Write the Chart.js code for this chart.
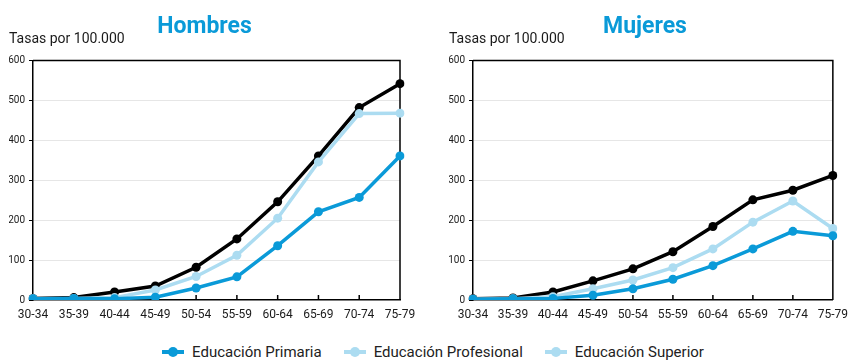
<!DOCTYPE html>
<html>
<head>
<meta charset="utf-8">
<script src="https://cdn.jsdelivr.net/npm/chart.js@4.4.1/dist/chart.umd.min.js"></script>
<style>
  html, body { margin: 0; padding: 0; background: #fff; }
  #wrap { position: relative; width: 856px; height: 362px; overflow: hidden; }
  .panel { position: absolute; top: 0; height: 335px; }
  #legend { position: absolute; left: 0; top: 343px; width: 866px; display: flex; justify-content: center;
            font-family: Roboto, 'Noto Sans', sans-serif; font-size: 15px; color: #222; }
  #legend .item { display: flex; align-items: center; margin: 0 11px; }
  #legend .mark { position: relative; width: 22px; height: 4px; margin-right: 8px; }
  #legend .mark i { position: absolute; left: 6px; top: -3px; width: 10px; height: 10px; border-radius: 50%; }
</style>
</head>
<body>
<div id="wrap">
  <div class="panel" style="left:0;width:430px"><canvas id="hombres" width="430" height="335"></canvas></div>
  <div class="panel" style="left:430px;width:426px"><canvas id="mujeres" width="426" height="335"></canvas></div>
  <div id="legend"></div>
</div>
<script>
// tick labels / categories
var ageGroups = ['30-34', '35-39', '40-44', '45-49', '50-54', '55-59', '60-64', '65-69', '70-74', '75-79'];
var seriesNames = ['Educación Primaria', 'Educación Profesional', 'Educación Superior'];

// Hombres
var hombresPrimaria    = [3, 4, 3, 7, 30, 58, 136, 221, 257, 361];
var hombresProfesional = [3, 4, 6, 25, 59, 112, 205, 346, 467, 468];
var hombresSuperior    = [4, 6, 20, 35, 82, 153, 246, 361, 482, 542];

// Mujeres
var mujeresPrimaria    = [2, 3, 4, 12, 28, 52, 86, 128, 172, 161];
var mujeresProfesional = [2, 3, 8, 28, 50, 81, 128, 195, 248, 179];
var mujeresSuperior    = [3, 5, 20, 48, 78, 121, 184, 251, 275, 312];

var BLUE  = '#0a9ad8';
var LIGHT = '#acdcf1';
var BLACK = '#000000';
var lineColors   = [BLUE, LIGHT, BLACK];
var legendColors = [BLUE, LIGHT, LIGHT];   // the original legend shows two light-blue keys
var FONT = "Roboto, 'Noto Sans', sans-serif";

// top/right frame and short inward ticks on the x axis
var framePlugin = {
  id: 'frame',
  beforeDatasetsDraw: function(chart) {
    var ctx = chart.ctx, a = chart.chartArea, x = chart.scales.x;
    ctx.save();
    ctx.strokeStyle = '#000';
    ctx.lineWidth = 1.5;
    ctx.beginPath();
    ctx.moveTo(a.left, a.top);
    ctx.lineTo(a.right, a.top);
    ctx.lineTo(a.right, a.bottom);
    for (var i = 0; i < x.ticks.length; i++) {
      var px = x.getPixelForTick(i);
      ctx.moveTo(px, a.bottom);
      ctx.lineTo(px, a.bottom - 5);
    }
    ctx.stroke();
    ctx.restore();
  }
};

function makeChart(id, title, data, padLeft, padRight) {
  var datasets = data.map(function(values, i) {
    return {
      label: seriesNames[i],
      data: values,
      borderColor: lineColors[i],
      backgroundColor: lineColors[i],
      pointBackgroundColor: lineColors[i],
      borderWidth: 3.5,
      pointRadius: 4.5,
      pointBorderWidth: 0,
      tension: 0
    };
  });
  return new Chart(document.getElementById(id).getContext('2d'), {
    type: 'line',
    data: { labels: ageGroups, datasets: datasets },
    plugins: [framePlugin],
    options: {
      responsive: false,
      animation: false,
      devicePixelRatio: 1,
      layout: { padding: { left: padLeft, right: padRight, top: 0, bottom: 0 } },
      plugins: {
        legend: { display: false },
        tooltip: { enabled: false },
        title: {
          display: true,
          text: title,
          color: BLUE,
          font: { family: FONT, size: 23, weight: 'bold', lineHeight: 0.5 },
          padding: { top: 21, bottom: 0 }
        },
        subtitle: {
          display: true,
          text: 'Tasas por 100.000',
          align: 'start',
          color: '#1a1a1a',
          font: { family: FONT, size: 14, lineHeight: 1 },
          padding: { top: 0, bottom: 14 }
        }
      },
      scales: {
        x: {
          offset: false,
          grid: { display: false, drawTicks: false },
          border: { display: true, color: '#000', width: 1.5 },
          ticks: { color: '#1a1a1a', padding: 8, maxRotation: 0, autoSkip: false,
                   font: { family: FONT, size: 12 } },
          afterFit: function(s) { s.height = 35; }
        },
        y: {
          min: 0,
          max: 600,
          ticks: { stepSize: 100, color: '#1a1a1a', padding: 4, font: { family: FONT, size: 10 } },
          grid: {
            color: function(c) { return (c.tick && (c.tick.value === 0 || c.tick.value === 600)) ? 'rgba(0,0,0,0)' : '#e6e6e6'; },
            tickColor: '#000',
            tickLength: 4,
            lineWidth: 1
          },
          border: { display: true, color: '#000', width: 1.5 },
          afterFit: function(s) { s.width = 24; }
        }
      }
    }
  });
}

makeChart('hombres', 'Hombres', [hombresPrimaria, hombresProfesional, hombresSuperior], 9, 30);
makeChart('mujeres', 'Mujeres', [mujeresPrimaria, mujeresProfesional, mujeresSuperior], 19, 15);

// legend shared by both panels
var legend = document.getElementById('legend');
seriesNames.forEach(function(name, i) {
  var item = document.createElement('div');
  item.className = 'item';
  item.innerHTML = '<span class="mark" style="background:' + legendColors[i] + '"><i style="background:' +
    legendColors[i] + '"></i></span><span>' + name + '</span>';
  legend.appendChild(item);
});
</script>
</body>
</html>
